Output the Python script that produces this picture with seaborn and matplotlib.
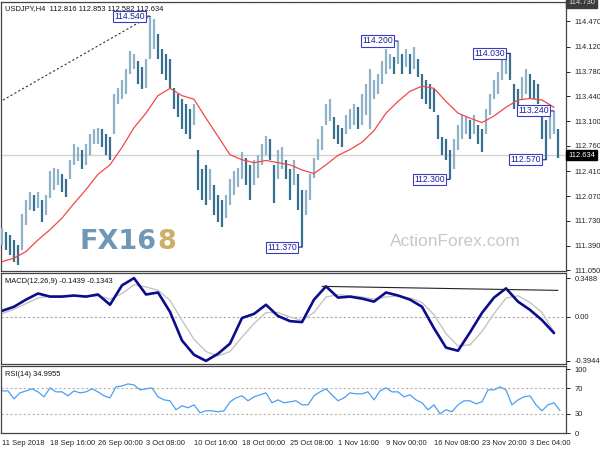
import numpy as np
import pandas as pd
import matplotlib
matplotlib.use("Agg")
import matplotlib.pyplot as plt
import seaborn as sns

# ---------------- data ----------------
symbol_title = "USDJPY,H4  112.816 112.853 112.582 112.634"
macd_title = "MACD(12,26,9) -0.1439 -0.1343"
rsi_title = "RSI(14) 34.9955"
last_price = 112.634
top_line_price = 114.730

bar_high = [111.64, 111.58, 111.54, 111.47, 111.40, 111.82, 112.02, 112.13, 112.09, 112.13,
            112.02, 112.09, 112.41, 112.46, 112.44, 112.37, 112.30, 112.57, 112.78, 112.74,
            112.71, 112.78, 112.92, 112.99, 113.01, 112.99, 112.92, 112.88, 113.47, 113.56,
            113.67, 113.81, 114.06, 114.02, 113.92, 113.84, 113.95, 114.54, 114.50, 114.29,
            114.09, 114.02, 113.95, 113.56, 113.47, 113.40, 113.33, 113.26, 113.33, 112.71,
            112.44, 112.50, 112.44, 112.23, 112.09, 112.02, 112.09, 112.30, 112.41, 112.46,
            112.68, 112.60, 112.50, 112.57, 112.64, 112.78, 112.89, 112.85, 112.50, 112.71,
            112.74, 112.57, 112.44, 112.57, 112.37, 112.16, 112.16, 112.37, 112.60, 112.85,
            113.03, 113.33, 113.40, 113.15, 113.05, 113.01, 113.19, 113.26, 113.33, 113.29,
            113.47, 113.61, 113.81, 113.67, 113.74, 113.92, 114.09, 114.02, 113.98, 114.20,
            114.02, 114.09, 114.02, 114.12, 113.95, 113.74, 113.67, 113.61, 113.54, 113.19,
            112.88, 112.85, 112.71, 112.85, 113.05, 113.19, 113.15, 113.12, 113.19, 113.05,
            112.99, 113.26, 113.47, 113.67, 113.78, 113.95, 114.02, 114.03, 113.61, 113.54,
            113.70, 113.81, 113.74, 113.67, 113.61, 113.26, 113.12, 113.15, 113.24, 112.99]

bar_low = [111.40, 111.33, 111.26, 111.17, 111.13, 111.33, 111.68, 111.88, 111.86, 111.91,
           111.72, 111.81, 112.05, 112.16, 112.23, 112.13, 112.06, 112.30, 112.50, 112.55,
           112.44, 112.50, 112.64, 112.78, 112.78, 112.74, 112.64, 112.57, 112.92, 113.33,
           113.40, 113.47, 113.74, 113.81, 113.61, 113.54, 113.56, 113.95, 114.09, 113.95,
           113.74, 113.67, 113.56, 113.26, 113.15, 112.99, 112.92, 112.85, 113.05, 112.16,
           112.02, 111.95, 112.02, 111.81, 111.72, 111.65, 111.77, 111.95, 112.09, 112.19,
           112.30, 112.23, 112.02, 112.23, 112.32, 112.50, 112.64, 112.57, 111.98, 112.30,
           112.44, 112.30, 112.02, 112.23, 111.88, 111.37, 111.81, 112.02, 112.32, 112.57,
           112.71, 113.05, 113.10, 112.85, 112.78, 112.74, 112.92, 112.99, 113.05, 112.99,
           113.05, 113.19, 112.99, 113.40, 113.47, 113.61, 113.74, 113.81, 113.74, 113.88,
           113.74, 113.84, 113.74, 113.81, 113.70, 113.40, 113.33, 113.26, 113.23, 112.85,
           112.64, 112.57, 112.30, 112.44, 112.71, 112.85, 112.92, 112.85, 112.92, 112.78,
           112.68, 112.92, 113.19, 113.40, 113.47, 113.67, 113.74, 113.67, 113.26, 113.26,
           113.40, 113.47, 113.40, 113.40, 113.33, 112.85, 112.57, 112.85, 112.92, 112.60]

# moving average / MACD sampled every 3rd bar
ma_values = [111.17, 111.22, 111.31, 111.47, 111.61, 111.77, 111.97, 112.16, 112.37, 112.50,
             112.74, 113.01, 113.21, 113.45, 113.55, 113.45, 113.40, 113.14, 112.89, 112.64,
             112.57, 112.53, 112.56, 112.53, 112.50, 112.43, 112.38, 112.50, 112.63, 112.71,
             112.81, 112.97, 113.21, 113.37, 113.51, 113.58, 113.55, 113.37, 113.21, 113.14,
             113.08, 113.17, 113.29, 113.39, 113.41, 113.39, 113.29]
macd_values = [0.055, 0.092, 0.156, 0.211, 0.183, 0.183, 0.193, 0.183, 0.202, 0.110,
               0.284, 0.349, 0.202, 0.220, 0.046, -0.211, -0.339, -0.394, -0.330, -0.239,
               -0.009, 0.028, 0.110, 0.009, -0.037, -0.046, 0.156, 0.275, 0.174, 0.183,
               0.165, 0.138, 0.220, 0.193, 0.156, 0.092, -0.101, -0.275, -0.303, -0.138,
               0.037, 0.174, 0.257, 0.138, 0.064, -0.028, -0.144]
signal_values = [0.03, 0.07, 0.12, 0.17, 0.19, 0.19, 0.19, 0.19, 0.19, 0.16,
                 0.21, 0.29, 0.27, 0.24, 0.15, -0.03, -0.20, -0.31, -0.35, -0.31,
                 -0.18, -0.06, 0.04, 0.04, 0.00, -0.03, 0.04, 0.18, 0.20, 0.19,
                 0.18, 0.16, 0.18, 0.19, 0.17, 0.13, 0.02, -0.15, -0.26, -0.25,
                 -0.13, 0.03, 0.17, 0.19, 0.13, 0.04, -0.134]
# RSI sampled every 1.5 bars
rsi_values = [65.8, 65.8, 53.4, 62.7, 65.8, 69.0, 64.3, 56.5, 70.5, 64.3,
              64.3, 58.1, 65.8, 62.7, 64.3, 69.0, 64.3, 58.1, 54.9, 72.1,
              73.6, 76.7, 75.2, 67.4, 69.0, 70.5, 56.5, 51.8, 50.3, 36.3,
              42.5, 39.4, 44.0, 31.6, 34.7, 34.7, 33.2, 34.7, 48.7, 54.9,
              58.1, 50.3, 56.5, 59.6, 62.7, 47.2, 51.8, 47.2, 48.7, 50.3,
              44.0, 44.0, 58.1, 64.3, 69.0, 59.6, 50.3, 54.9, 62.7, 61.2,
              61.2, 64.3, 51.8, 65.8, 70.5, 64.3, 64.3, 56.5, 59.6, 51.8,
              47.2, 36.3, 44.0, 30.0, 36.3, 33.2, 44.0, 50.3, 50.3, 45.6,
              48.7, 67.4, 67.4, 72.1, 67.4, 44.0, 51.8, 56.5, 58.1, 44.0,
              34.7, 44.0, 47.2, 35.0]

price_ticks = [114.470, 114.120, 113.780, 113.440, 113.100,
               112.760, 112.410, 112.070, 111.730, 111.390, 111.050]
macd_ticks = [0.3488, 0.0, -0.3944]
macd_tick_labels = ["0.3488", "0.00", "-0.3944"]
rsi_ticks = [100, 70, 30, 0]
date_labels = ["11 Sep 2018", "18 Sep 16:00", "26 Sep 00:00", "3 Oct 08:00",
               "10 Oct 16:00", "18 Oct 00:00", "25 Oct 08:00", "1 Nov 16:00",
               "9 Nov 00:00", "16 Nov 08:00", "23 Nov 20:00", "3 Dec 04:00"]

swing_bars = [37, 75, 99, 112, 127, 138, 136]
swing_prices = [114.54, 111.37, 114.20, 112.30, 114.03, 113.24, 112.57]
swing_texts = ["114.540", "111.370", "114.200", "112.300", "114.030", "113.240", "112.570"]

trend_bars = [-1, 37]
trend_prices = [113.35, 114.54]
macd_trend_bars = [80, 139]
macd_trend_values = [0.275, 0.239]

# ---------------- style ----------------
sns.set_style("white")
plt.rcParams['font.family'] = ['Liberation Sans', 'DejaVu Sans']
FS = 5.4

W, H = 600, 450
fig = plt.figure(figsize=(6, 4.5), dpi=100)
fig.patch.set_facecolor("white")

def pax(x0, y0, x1, y1):
    return fig.add_axes([x0 / W, 1 - y1 / H, (x1 - x0) / W, (y1 - y0) / H])

ax = pax(1, 2, 566, 271)
axm = pax(1, 273, 566, 364)
axr = pax(1, 366, 566, 433)

n = len(bar_high)
bx = np.arange(n)
ind_x = np.arange(len(ma_values)) * 3
rsi_x = np.arange(len(rsi_values)) * 1.5
xlim = (-0.25, 141)

# ---------- main price panel ----------
hi = np.array(bar_high)
lo = np.array(bar_low)
mid = (hi + lo) / 2
up = np.r_[True, mid[1:] >= mid[:-1]]
cols = np.where(up, "#8fb2c7", "#37708f")
ax.axhline(last_price, color="#d2d2d2", lw=1.0, zorder=1)
ax.axhline(top_line_price, color="#555555", lw=0.8, ls=(0, (1.5, 1.5)), zorder=1)
ax.vlines(bx, lo, hi, colors=cols, linewidth=1.6, zorder=3)
sns.lineplot(x=ind_x, y=ma_values, ax=ax, color="#f04848", lw=0.9, zorder=4)
ax.plot(trend_bars, trend_prices, color="#333333", lw=0.8, ls=(0, (2, 2)), zorder=4)

navy = "#1f1f9a"
for b, p, t in zip(swing_bars, swing_prices, swing_texts):
    ax.annotate(t, xy=(b, p), xytext=(-5, 0), textcoords="offset pixels",
                ha="right", va="center", fontsize=6.2, color=navy,
                bbox=dict(boxstyle="square,pad=0.12", fc="white", ec="#3b3bc0", lw=0.8),
                arrowprops=dict(arrowstyle="-", color=navy, lw=0.8,
                                shrinkA=0, shrinkB=0), zorder=6)

ax.set_xlim(*xlim)
ax.set_ylim(111.043, 114.735)
ax.yaxis.tick_right()
ax.set_yticks(price_ticks)
ax.set_yticklabels([f"{v:.3f}" for v in price_ticks])
ax.set_xticks([])
ax.text(0.007, 0.988, symbol_title, transform=ax.transAxes, fontsize=FS,
        va="top", ha="left", color="#111111")
ax.text(1.004, last_price, f"{last_price:.3f}", transform=ax.get_yaxis_transform(),
        fontsize=FS, color="white", va="center", ha="left",
        bbox=dict(boxstyle="square,pad=0.25", fc="black", ec="black"), clip_on=False, zorder=10)
ax.text(1.004, top_line_price, f"{top_line_price:.3f}", transform=ax.get_yaxis_transform(),
        fontsize=FS, color="#dddddd", va="center", ha="left",
        bbox=dict(boxstyle="square,pad=0.25", fc="#3c3c3c", ec="#3c3c3c"), clip_on=False, zorder=10)

# watermarks
t_fx = fig.text(80 / W, 1 - 242 / H, "FX16", fontsize=19.5, fontweight="bold",
                family="DejaVu Sans", color="#6f97b6", va="center", ha="left", zorder=0)
fig.canvas.draw()
fig.text(0, 0, "8", fontsize=19.5, fontweight="bold", family="DejaVu Sans",
         color="#cfae6a", va="center", ha="left", zorder=0,
         transform=matplotlib.transforms.offset_copy(
             fig.transFigure, fig=fig,
             x=t_fx.get_window_extent().x1 / fig.dpi,
             y=(1 - 242 / H) * H / fig.dpi))
fig.text(390 / W, 1 - 241 / H, "ActionForex.com", fontsize=12.5,
         family="Liberation Sans", color="#c8c8c8", va="center", ha="left", zorder=0)

# ---------- MACD ----------
axm.axhline(0, color="#a8a8a8", lw=0.8, ls=(0, (2, 2)))
sns.lineplot(x=ind_x, y=signal_values, ax=axm, color="#c4c4c4", lw=1.0)
sns.lineplot(x=ind_x, y=macd_values, ax=axm, color="#0c0c8e", lw=1.9)
axm.plot(macd_trend_bars, macd_trend_values, color="#222222", lw=0.8)
axm.set_xlim(*xlim)
axm.set_ylim(-0.422, 0.395)
axm.yaxis.tick_right()
axm.set_yticks(macd_ticks)
axm.set_yticklabels(macd_tick_labels)
axm.set_xticks([])
axm.text(0.007, 0.95, macd_title, transform=axm.transAxes, fontsize=FS,
         va="top", ha="left", color="#111111")

# ---------- RSI ----------
for lvl in (70, 30):
    axr.axhline(lvl, color="#b4b4b4", lw=0.8, ls=(0, (2, 2)))
sns.lineplot(x=rsi_x, y=rsi_values, ax=axr, color="#4c9ff0", lw=0.9)
axr.set_xlim(*xlim)
axr.set_ylim(0.5, 104.7)
axr.yaxis.tick_right()
axr.set_yticks(rsi_ticks)
axr.set_yticklabels([str(v) for v in rsi_ticks])
axr.set_xticks(np.arange(len(date_labels)) * 12)
axr.set_xticklabels(date_labels, ha="left")
axr.text(0.007, 0.93, rsi_title, transform=axr.transAxes, fontsize=FS,
         va="top", ha="left", color="#111111")

for a in (ax, axm, axr):
    a.set_facecolor("white")
    for s in a.spines.values():
        s.set_color("#444444")
        s.set_linewidth(0.9)
    a.tick_params(axis="y", direction="out", length=3, width=0.7, pad=3,
                  labelsize=FS, colors="#222222", right=True, left=False)
    a.tick_params(axis="x", direction="out", length=3, width=0.7, pad=2,
                  labelsize=FS, colors="#222222")
    a.set_xlabel("")
    a.set_ylabel("")
    leg = a.get_legend()
    if leg:
        leg.remove()

fig.savefig("out.png", dpi=100, facecolor="white")
